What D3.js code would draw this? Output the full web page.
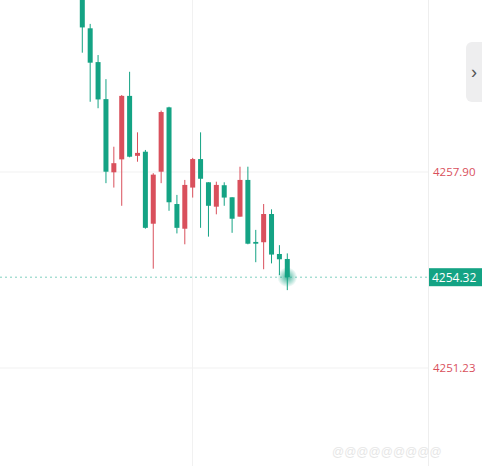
<!DOCTYPE html>
<html><head><meta charset="utf-8">
<script src="https://cdn.jsdelivr.net/npm/d3@7"></script>
<style>body{margin:0;background:#fff;}svg{display:block;}</style>
</head><body>
<svg id="chart" width="482" height="466"></svg>
<script>
let opens=[4264.09,4262.79,4261.64,4260.38,4257.89,4258.33,4260.49,4258.45,4258.59,4256.14,4257.91,4260.10,4256.81,4255.97,4257.37,4258.34,4257.55,4256.72,4257.45,4257.04,4256.38,4257.63,4255.52,4255.51,4256.47,4255.11,4254.94];
let highs=[4264.26,4262.94,4261.88,4261.06,4258.76,4260.52,4261.31,4259.25,4258.65,4257.86,4259.99,4260.12,4257.12,4257.63,4258.38,4259.25,4257.55,4257.57,4257.55,4257.04,4258.08,4258.08,4255.93,4256.81,4256.63,4255.41,4255.13];
let lows=[4261.96,4260.29,4260.07,4257.52,4257.37,4256.75,4258.40,4258.25,4255.97,4254.61,4257.52,4256.58,4255.81,4255.44,4257.03,4256.00,4255.70,4256.46,4256.75,4255.83,4256.38,4255.44,4254.83,4254.59,4254.79,4254.39,4253.88];
let closes=[4262.82,4261.62,4260.37,4257.91,4258.20,4260.49,4258.42,4258.55,4256.00,4257.81,4259.94,4256.87,4256.00,4257.46,4258.34,4257.67,4256.75,4257.46,4257.03,4256.31,4257.63,4255.46,4255.46,4256.47,4255.09,4254.93,4254.32];
let tickVals=[4257.90,4251.23];
let lastPrice=4254.32;

let svg=d3.select("#chart");
let up="#d9505c", down="#14a384";
let x=d3.scaleLinear().domain([0,opens.length-1]).range([82.3,287.3]);
let y=d3.scaleLinear().domain([4251.23,4257.90]).range([368,172]);

// grid
svg.selectAll(".hg").data(tickVals).enter().append("line")
  .attr("x1",0).attr("x2",428).attr("y1",d=>y(d)).attr("y2",d=>y(d))
  .style("stroke","#f1f1f1");
svg.append("line").attr("x1",192.5).attr("x2",192.5).attr("y1",0).attr("y2",466).style("stroke","#f1f1f1");
svg.append("line").attr("x1",428.5).attr("x2",428.5).attr("y1",0).attr("y2",466).style("stroke","#eeeeee");

// last price dashed line
svg.append("line").attr("x1",0).attr("x2",428).attr("y1",y(lastPrice)).attr("y2",y(lastPrice))
  .style("stroke","#7fd0bf").style("stroke-dasharray","2,3");

// glow
let defs=svg.append("defs");
let rg=defs.append("radialGradient").attr("id","glow");
rg.append("stop").attr("offset","0%").attr("stop-color",down).attr("stop-opacity",0.8);
rg.append("stop").attr("offset","100%").attr("stop-color",down).attr("stop-opacity",0);
svg.append("circle").attr("cx",x(opens.length-1)).attr("cy",y(lastPrice)).attr("r",10).attr("fill","url(#glow)");

// candles
let idx=d3.range(opens.length);
let col=i=>closes[i]>=opens[i]?up:down;
svg.selectAll(".wick").data(idx).enter().append("line")
  .attr("x1",i=>x(i)).attr("x2",i=>x(i)).attr("y1",i=>y(highs[i])).attr("y2",i=>y(lows[i]))
  .style("stroke",col).style("stroke-width",1);
svg.selectAll(".body").data(idx).enter().append("rect")
  .attr("x",i=>x(i)-2.5).attr("width",5)
  .attr("y",i=>y(Math.max(opens[i],closes[i])))
  .attr("height",i=>Math.max(1.5,Math.abs(y(opens[i])-y(closes[i]))))
  .attr("fill",col);

// axis labels
svg.selectAll(".tl").data(tickVals).enter().append("text")
  .attr("x",433).attr("y",d=>y(d)+4).text(d=>d.toFixed(2))
  .style("font","11.5px 'Open Sans', sans-serif").attr("fill","#d9505c");
svg.append("rect").attr("x",429).attr("y",y(lastPrice)-9).attr("width",53).attr("height",18).attr("fill","#14a384");
svg.append("text").attr("x",432).attr("y",y(lastPrice)+4.5).text(lastPrice.toFixed(2))
  .style("font","12px 'Open Sans', sans-serif").attr("fill","#fff");

// side button
svg.append("rect").attr("x",466).attr("y",42).attr("width",24).attr("height",60).attr("rx",6).attr("fill","#eeeeef");
svg.append("text").attr("x",471).attr("y",78).text("›").style("font","18px sans-serif").attr("fill","#555");

// faded watermark
svg.append("text").attr("x",332).attr("y",456).text("@@@@@@@@@").style("font","12px sans-serif").attr("fill","#e6e6e6");
</script>
</body></html>
